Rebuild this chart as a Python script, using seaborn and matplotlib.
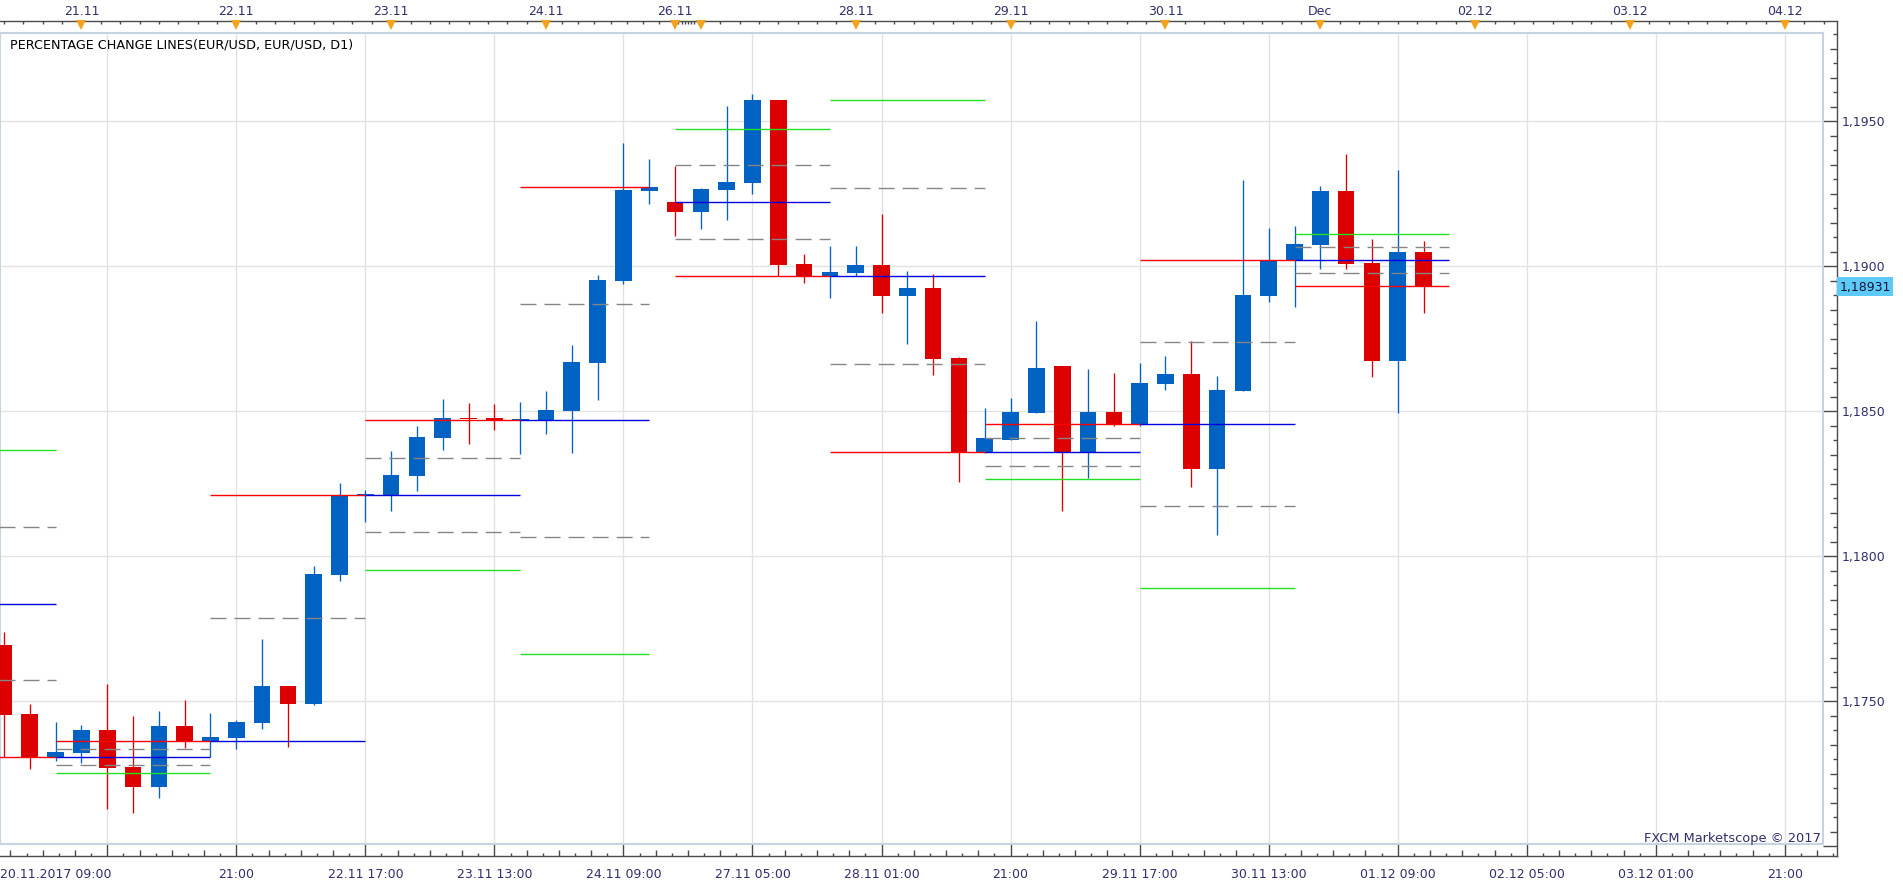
import numpy as np
import matplotlib
matplotlib.use("Agg")
import matplotlib.pyplot as plt
import matplotlib.transforms as mtransforms
from matplotlib.collections import LineCollection
from matplotlib.patches import Rectangle
import seaborn as sns

# ---------------- data (EUR/USD, 4-hour candles) ----------------
bar_open = [1.17694, 1.17456, 1.17308, 1.17322, 1.17401, 1.17273, 1.17204, 1.17415, 1.17363, 1.17373,
            1.17425, 1.17553, 1.17491, 1.17937, 1.18210, 1.18210, 1.18278, 1.18409, 1.18477, 1.18477,
            1.18469, 1.18469, 1.18501, 1.18668, 1.18950, 1.19261, 1.19221, 1.19188, 1.19264, 1.19288,
            1.19573, 1.19008, 1.18966, 1.18978, 1.19004, 1.18899, 1.18925, 1.18684, 1.18360, 1.18402,
            1.18495, 1.18656, 1.18359, 1.18498, 1.18455, 1.18594, 1.18629, 1.18301, 1.18570, 1.18899,
            1.19021, 1.19073, 1.19260, 1.19011, 1.18674, 1.19049]
bar_high = [1.17739, 1.17491, 1.17429, 1.17418, 1.17560, 1.17449, 1.17467, 1.17504, 1.17460, 1.17436,
            1.17715, 1.17553, 1.17967, 1.18253, 1.18229, 1.18363, 1.18449, 1.18543, 1.18529, 1.18525,
            1.18532, 1.18570, 1.18729, 1.18971, 1.19426, 1.19370, 1.19345, 1.19270, 1.19553, 1.19594,
            1.19573, 1.19042, 1.19070, 1.19070, 1.19180, 1.18984, 1.18973, 1.18687, 1.18511, 1.18546,
            1.18811, 1.18656, 1.18646, 1.18632, 1.18667, 1.18691, 1.18742, 1.18622, 1.19298, 1.19132,
            1.19139, 1.19277, 1.19387, 1.19094, 1.19332, 1.19087]
bar_low = [1.17308, 1.17267, 1.17294, 1.17287, 1.17129, 1.17115, 1.17167, 1.17339, 1.17308, 1.17336,
           1.17404, 1.17342, 1.17487, 1.17916, 1.18119, 1.18157, 1.18226, 1.18368, 1.18388, 1.18437,
           1.18353, 1.18423, 1.18357, 1.18540, 1.18939, 1.19215, 1.19106, 1.19129, 1.19161, 1.19250,
           1.18966, 1.18943, 1.18892, 1.18966, 1.18840, 1.18733, 1.18626, 1.18256, 1.18355, 1.18402,
           1.18495, 1.18157, 1.18271, 1.18450, 1.18448, 1.18574, 1.18240, 1.18074, 1.18570, 1.18878,
           1.18861, 1.18992, 1.18992, 1.18618, 1.18495, 1.18840]
bar_close = [1.17453, 1.17308, 1.17325, 1.17401, 1.17270, 1.17204, 1.17415, 1.17363, 1.17377, 1.17429,
             1.17553, 1.17491, 1.17939, 1.18210, 1.18215, 1.18280, 1.18411, 1.18477, 1.18473, 1.18469,
             1.18471, 1.18504, 1.18670, 1.18953, 1.19263, 1.19273, 1.19188, 1.19267, 1.19291, 1.19573,
             1.19006, 1.18966, 1.18980, 1.19004, 1.18899, 1.18925, 1.18681, 1.18361, 1.18408, 1.18498,
             1.18649, 1.18359, 1.18498, 1.18455, 1.18598, 1.18629, 1.18301, 1.18573, 1.18901, 1.19021,
             1.19077, 1.19260, 1.19008, 1.18674, 1.19049, 1.18931]

# percentage change lines, one segment per (D1) day, in bar-index units
day_start = [-4, 2, 8, 14, 20, 26, 32, 38, 44, 50]
day_end = [2, 8, 14, 20, 25, 32, 38, 44, 50, 56]
line_red = [1.17308, 1.17362, 1.18210, 1.18469, 1.19272, 1.18966, 1.18359, 1.18455, 1.19021, 1.18931]
line_gray_a = [1.17573, 1.17334, 1.17786, 1.18338, 1.18871, 1.19093, 1.18662, 1.18407, 1.18738, 1.18976]
line_blue = [1.17837, 1.17308, 1.17362, 1.18210, 1.18469, 1.19221, 1.18966, 1.18359, 1.18455, 1.19021]
line_gray_b = [1.18101, 1.17280, 1.16938, 1.18083, 1.18067, 1.19348, 1.19269, 1.18312, 1.18172, 1.19066]
line_green = [1.18365, 1.17253, 1.16514, 1.17952, 1.17662, 1.19472, 1.19572, 1.18266, 1.17890, 1.19110]

bottom_tick_bars = [4, 9, 14, 19, 24, 29, 34, 39, 44, 49, 54, 59, 64, 69]
bottom_tick_labels = ["", "21:00", "22.11 17:00", "23.11 13:00", "24.11 09:00", "27.11 05:00",
                      "28.11 01:00", "21:00", "29.11 17:00", "30.11 13:00", "01.12 09:00",
                      "02.12 05:00", "03.12 01:00", "21:00"]
first_bottom_label = "20.11.2017 09:00"
top_day_bars = [3, 9, 15, 21, 26, 27, 33, 39, 45, 51, 57, 63, 69]
top_day_labels = ["21.11", "22.11", "23.11", "24.11", "26.11", "", "28.11", "29.11", "30.11",
                  "Dec", "02.12", "03.12", "04.12"]
price_ticks = [1.1750, 1.1800, 1.1850, 1.1900, 1.1950]
price_labels = ["1,1750", "1,1800", "1,1850", "1,1900", "1,1950"]
last_price = 1.18931
last_price_label = "1,18931"
title_text = "PERCENTAGE CHANGE LINES(EUR/USD, EUR/USD, D1)"
credit_text = "FXCM Marketscope \u00a9 2017"

# ---------------- style ----------------
sns.set_theme(style="white")
plt.rcParams['font.family'] = ['DejaVu Sans']

UP = "#0062c3"
DOWN = "#dc0000"
NAVY = "#2f2f6e"
AXC = "#4a4a4a"
GRID = "#e2e2e2"
BORDER = "#c8d3e2"
ORANGE = "#f5a21e"

W, H, DPI = 1903, 887, 100
fig = plt.figure(figsize=(W / DPI, H / DPI), dpi=DPI)
fig.patch.set_facecolor("white")

# pixel geometry of the reference
X0_PX, BAR_PX = 4.0, 25.81
Y_REF_PX, P_REF, PX_PER_PRICE = 412.3, 1.185, 29000.0


def bar_at(px):
    return (px - X0_PX) / BAR_PX


def price_at(py):
    return P_REF + (Y_REF_PX - py) / PX_PER_PRICE


def ypx(p):
    return Y_REF_PX - (p - P_REF) * PX_PER_PRICE


def fx(px):
    return px / W


def fy(py):
    return (H - py) / H


PLOT_R, PLOT_T, PLOT_B = 1822.7, 33.7, 845.0
FRAME_R, FRAME_T, FRAME_B = 1837.3, 21.7, 857.3

# outer frame (axis lines & ticks)
axo = fig.add_axes([0, fy(FRAME_B), fx(FRAME_R), (FRAME_B - FRAME_T) / H])
axo.set_zorder(0)
axo.set_facecolor("none")
axo.set_xticks([])
axo.set_yticks([])
axo.spines["left"].set_visible(False)
for s in ["top", "bottom", "right"]:
    axo.spines[s].set_color(AXC)
    axo.spines[s].set_linewidth(1.0)

# plot area
ax = fig.add_axes([0, fy(PLOT_B), fx(PLOT_R), (PLOT_B - PLOT_T) / H])
ax.set_zorder(1)
ax.set_facecolor("white")
for s in ax.spines.values():
    s.set_color(BORDER)
    s.set_linewidth(1.5)
    s.set_visible(True)

ax.set_xticks(bottom_tick_bars)
ax.set_yticks(price_ticks)
ax.grid(True, color=GRID, linewidth=1.0)
ax.set_axisbelow(True)
ax.tick_params(length=0, labelbottom=False, labelleft=False)

# candles
x = np.arange(len(bar_open))
o = np.array(bar_open)
c = np.array(bar_close)
hi = np.array(bar_high)
lo = np.array(bar_low)
colors = np.where(c >= o, UP, DOWN)
ax.vlines(x, lo, hi, colors=colors, linewidth=0.95, zorder=2)
body_bottom = np.minimum(o, c)
body_h = np.maximum(np.abs(c - o), 0.00003)
ax.bar(x, body_h, bottom=body_bottom, width=0.645, color=colors, linewidth=0, zorder=3)

# percentage change lines
ax.hlines(line_gray_a, day_start, day_end, colors="#858585", linewidth=1.0,
          linestyles=(0, (11.5, 5.8)), zorder=4)
ax.hlines(line_gray_b, day_start, day_end, colors="#858585", linewidth=1.0,
          linestyles=(0, (11.5, 5.8)), zorder=4)
ax.hlines(line_green, day_start, day_end, colors="#22e022", linewidth=1.0, zorder=4)
ax.hlines(line_blue, day_start, day_end, colors="#0000e0", linewidth=1.0, zorder=4)
ax.hlines(line_red, day_start, day_end, colors="#ff0000", linewidth=1.0, zorder=4)

ax.set_xlim(bar_at(0), bar_at(PLOT_R))
ax.set_ylim(price_at(PLOT_B), price_at(PLOT_T))
axo.set_xlim(bar_at(0), bar_at(FRAME_R))
axo.set_ylim(price_at(FRAME_B), price_at(FRAME_T))

# title and credit
fig.text(fx(9.8), fy(48.7), title_text, fontsize=9.2, color="black", va="baseline", ha="left")
fig.text(fx(1821.5), fy(841.7), credit_text, fontsize=9.4, color=NAVY, va="baseline", ha="right",
         zorder=10)

# ---- bottom axis ticks ----
tr_xb = mtransforms.blended_transform_factory(axo.transData, fig.transFigure)
xmin_b, xmax_b = bar_at(0), bar_at(FRAME_R)
segs = []
for k in range(-16, 8 * 16):
    xb = bottom_tick_bars[0] + k * 0.625
    if xmin_b <= xb <= xmax_b:
        L = 12.0 if k % 8 == 0 else (6.7 if k % 2 == 0 else 3.3)
        segs.append([(xb, fy(FRAME_B)), (xb, fy(FRAME_B - L))])
axo.add_collection(LineCollection(segs, colors=AXC, linewidths=1.0, transform=tr_xb,
                                  clip_on=False), autolim=False)
for b, lab in zip(bottom_tick_bars, bottom_tick_labels):
    if lab:
        axo.text(b, fy(878.5), lab, transform=tr_xb, ha="center", va="baseline",
                 fontsize=9, color=NAVY, clip_on=False)
fig.text(fx(0.5), fy(878.5), first_bottom_label, ha="left", va="baseline", fontsize=9, color=NAVY)

# ---- top axis ticks ----
ext = [top_day_bars[0] - 6] + top_day_bars + [top_day_bars[-1] + 6]
segs = []
for a, b in zip(ext[:-1], ext[1:]):
    for k in range(8):
        xt = a + (b - a) * k / 8.0
        if xmin_b <= xt <= xmax_b:
            segs.append([(xt, fy(FRAME_T)), (xt, fy(FRAME_T + 3.6))])
axo.add_collection(LineCollection(segs, colors=AXC, linewidths=1.0, transform=tr_xb,
                                  clip_on=False), autolim=False)
axo.plot(top_day_bars, [fy(26.2)] * len(top_day_bars), linestyle="none", marker="v",
         markersize=6.7, color=ORANGE, markeredgewidth=0, transform=tr_xb, clip_on=False,
         zorder=5)
for b, lab in zip(top_day_bars, top_day_labels):
    if lab:
        axo.text(b, fy(15.3), lab, transform=tr_xb, ha="center", va="baseline",
                 fontsize=9, color=NAVY, clip_on=False)

# ---- right axis ticks ----
tr_yr = mtransforms.blended_transform_factory(fig.transFigure, axo.transData)
pmin, pmax = price_at(FRAME_B), price_at(FRAME_T)
segs = []
for k in range(int(pmin / 0.0005) - 1, int(pmax / 0.0005) + 2):
    p = k * 0.0005
    if pmin <= p <= pmax:
        L = 14.0 if k % 10 == 0 else (7.0 if k % 2 == 1 else 4.0)
        segs.append([(fx(FRAME_R), p), (fx(FRAME_R - L), p)])
axo.add_collection(LineCollection(segs, colors=AXC, linewidths=1.0, transform=tr_yr,
                                  clip_on=False), autolim=False)
for p, lab in zip(price_ticks, price_labels):
    axo.text(fx(1842), p, lab, transform=tr_yr, ha="left", va="center", fontsize=9,
             color=NAVY, clip_on=False)

# current price marker
yl = ypx(last_price)
fig.add_artist(Rectangle((fx(1837.3), fy(yl + 9.7)), fx(55.4), 19.4 / H,
                         transform=fig.transFigure, facecolor="#5cc9f6", edgecolor="none",
                         zorder=6))
fig.text(fx(1839.5), fy(yl), last_price_label, ha="left", va="center", fontsize=9,
         color="#141438", zorder=7)

axo.set_xlim(bar_at(0), bar_at(FRAME_R))
axo.set_ylim(price_at(FRAME_B), price_at(FRAME_T))

fig.savefig("out.png", dpi=DPI, facecolor="white")
